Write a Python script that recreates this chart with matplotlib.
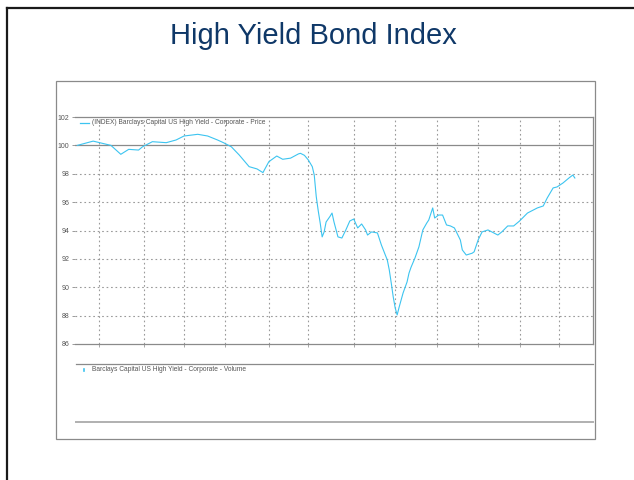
import numpy as np
import matplotlib
matplotlib.use("Agg")
import matplotlib.pyplot as plt
from matplotlib.lines import Line2D
from matplotlib.patches import Rectangle

# Barclays Capital US High Yield - Corporate - Price, daily closes
start_date = "2011-02-11"
holidays = ["2011-02-21", "2011-04-22", "2011-05-30", "2011-07-04", "2011-09-05",
            "2011-11-24", "2011-12-26", "2012-01-02", "2012-01-16", "2012-02-20"]

# trading session number counted from start_date
session = [0, 8, 11, 17, 22, 26, 31, 33, 38, 45, 50, 54, 61, 66, 71, 74, 78, 82, 87, 91,
           94, 97, 101, 104, 108, 112, 113, 115, 117, 119, 120, 121, 122, 123, 124, 125,
           126, 128, 129, 130, 132, 134, 136, 138, 140, 142, 144, 146, 147, 149, 152, 154,
           156, 157, 158, 159, 160, 161, 162, 163, 164, 165, 167, 168, 169, 171, 173, 175,
           177, 178, 180, 181, 183, 185, 187, 189, 191, 194, 195, 197, 200, 201, 203, 205,
           208, 213, 215, 218, 221, 224, 228, 233, 236, 238, 241, 243, 246, 249, 251, 252]
price = [100.0, 100.3, 100.2, 100.0, 99.37, 99.72, 99.67, 99.9, 100.26, 100.19, 100.38,
         100.66, 100.78, 100.66, 100.38, 100.19, 99.9, 99.32, 98.5, 98.34, 98.08, 98.85,
         99.25, 99.02, 99.1, 99.4, 99.44, 99.3, 98.97, 98.5, 97.9, 96.4, 95.4, 94.53, 93.55,
         93.9, 94.6, 95.0, 95.23, 94.6, 93.55, 93.47, 94.04, 94.67, 94.81, 94.18, 94.46,
         94.04, 93.68, 93.9, 93.83, 92.98, 92.27, 91.92, 91.22, 90.3, 89.32, 88.54, 88.05,
         88.6, 89.1, 89.6, 90.37, 91.0, 91.4, 92.06, 92.84, 94.04, 94.53, 94.74, 95.59,
         94.88, 95.09, 95.09, 94.39, 94.32, 94.18, 93.33, 92.63, 92.27, 92.4, 92.5, 93.33,
         93.9, 94.04, 93.68, 93.9, 94.32, 94.32, 94.67, 95.23, 95.59, 95.73, 96.29, 97.0,
         97.07, 97.35, 97.7, 97.91, 97.7]

month_starts = ["2011-03", "2011-04", "2011-05", "2011-06", "2011-07", "2011-08", "2011-09",
                "2011-10", "2011-11", "2011-12", "2012-01", "2012-02"]
y_ticks = [86, 88, 90, 92, 94, 96, 98, 100, 102]

price_label = "(INDEX) Barclays Capital US High Yield - Corporate - Price"
volume_label = "Barclays Capital US High Yield - Corporate - Volume"

line_color = "#3cc4f0"
frame_gray = "#8a8a8a"
grid_gray = "#9a9a9a"

plt.rcParams["font.family"] = ["Liberation Sans", "DejaVu Sans"]

fig = plt.figure(figsize=(6.34, 4.8), dpi=100)
W, H = 634.0, 480.0

# slide border and title
fig.add_artist(Line2D([7 / W, 7 / W], [0, 1 - 8 / H], color="#1a1a1a", lw=1.6))
fig.add_artist(Line2D([7 / W, 1], [1 - 8 / H, 1 - 8 / H], color="#1a1a1a", lw=1.6))
fig.text(313 / W, 1 - 36 / H, "High Yield Bond Index", ha="center", va="center",
         fontsize=21, color="#0f3868")

# chart frame
fig.add_artist(Rectangle((56 / W, 1 - 439 / H), 539 / W, 358 / H, transform=fig.transFigure,
                         fill=False, edgecolor=frame_gray, lw=0.9))

# price panel
ax = fig.add_axes([75 / W, 1 - 344 / H, 518 / W, 227 / H])
month_pos = [np.busday_count(start_date,
                             np.busday_offset(m + "-01", 0, roll="forward", holidays=holidays),
                             holidays=holidays) for m in month_starts]
ax.plot(session, price, color=line_color, lw=0.8)
ax.set_xlim(-1.2, 261.2)
ax.set_ylim(86, 102)
ax.set_xticks(month_pos)
ax.set_xticklabels([])
ax.set_yticks(y_ticks)
ax.set_yticklabels([str(v) for v in y_ticks])
ax.tick_params(axis="y", length=2, width=0.6, color=frame_gray, labelsize=5,
               labelcolor="#555555", pad=2)
ax.tick_params(axis="x", length=2, width=0.6, color=grid_gray)
for v in y_ticks[1:-2]:
    ax.axhline(v, color=grid_gray, lw=0.8, ls=(0, (1.5, 2.5)), zorder=0)
ax.axhline(100, color=frame_gray, lw=0.9, zorder=0)
for p in month_pos:
    ax.axvline(p, color=grid_gray, lw=0.8, ls=(0, (1.5, 2.5)), zorder=0)
for side in ["top", "bottom", "right"]:
    ax.spines[side].set_color(frame_gray)
    ax.spines[side].set_linewidth(0.9)
ax.spines["left"].set_visible(False)

ax.plot([0.01, 0.027], [0.974, 0.974], transform=ax.transAxes, color=line_color, lw=0.9)
ax.text(0.033, 0.974, price_label, transform=ax.transAxes, ha="left", va="center",
        fontsize=4.8, color="#555555")

# volume panel
vax = fig.add_axes([76 / W, 1 - 422 / H, 517 / W, 58 / H])
vax.set_xticks([])
vax.set_yticks([])
vax.spines["left"].set_visible(False)
vax.spines["right"].set_visible(False)
vax.spines["top"].set_color(frame_gray)
vax.spines["top"].set_linewidth(0.9)
vax.spines["bottom"].set_color("#b0b0b0")
vax.spines["bottom"].set_linewidth(1.4)
vax.plot([0.016, 0.016], [0.88, 0.92], transform=vax.transAxes, color=line_color, lw=1.2)
vax.text(0.03, 0.9, volume_label, transform=vax.transAxes, ha="left", va="center",
         fontsize=4.8, color="#555555")

fig.savefig("out.png", dpi=100)
